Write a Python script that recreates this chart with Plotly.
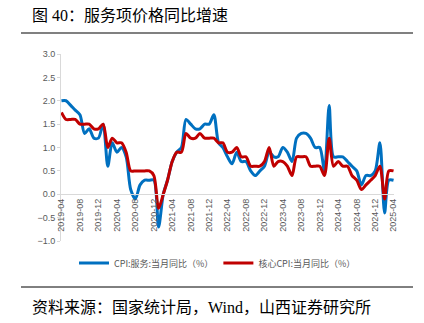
import plotly.graph_objects as go

# ---------------- data ----------------
months = [f"{y}-{m:02d}" for y in range(2019, 2026) for m in range(1, 13)]
months = months[months.index("2019-04"):months.index("2025-04") + 1]

services_cpi = [
    2.0, 2.0, 1.9, 1.8, 1.7, 1.3, 1.4, 1.2, 1.2,            # 2019-04..12
    1.5, 0.6, 1.1, 0.9, 1.0, 0.8, 0.1, -0.1, 0.2, 0.3, 0.3, 0.3,  # 2020
    -0.7, 0.0, 0.3, 0.7, 0.9, 1.0, 1.6, 1.5, 1.4, 1.4, 1.5, 1.5,  # 2021
    1.7, 1.1, 1.0, 0.8, 0.65, 0.9, 0.7, 0.7, 0.5, 0.4, 0.5, 0.6,  # 2022
    0.9, 0.8, 0.8, 1.0, 0.9, 0.7, 1.2, 1.3, 1.3, 1.2, 1.0, 1.0,   # 2023
    0.5, 1.9, 0.8, 0.8, 0.8, 0.7, 0.6, 0.5, 0.2, 0.4, 0.4, 0.5,   # 2024
    1.1, -0.4, 0.3, 0.3,                                          # 2025
]
core_cpi = [
    1.75, 1.6, 1.6, 1.6, 1.5, 1.5, 1.5, 1.4, 1.4,
    1.5, 1.0, 1.2, 1.1, 1.1, 0.9, 0.5, 0.5, 0.5, 0.5, 0.5, 0.4,
    -0.3, 0.0, 0.3, 0.7, 0.9, 0.9, 1.3, 1.2, 1.2, 1.3, 1.2, 1.2,
    1.2, 1.1, 1.1, 0.9, 0.9, 1.0, 0.8, 0.8, 0.6, 0.6, 0.6, 0.7,
    1.0, 0.6, 0.7, 0.7, 0.6, 0.4, 0.8, 0.8, 0.8, 0.6, 0.6, 0.6,
    0.4, 1.2, 0.6, 0.7, 0.6, 0.6, 0.4, 0.3, 0.1, 0.2, 0.3, 0.4,
    0.6, -0.1, 0.5, 0.5,
]
series_names = ["CPI:服务:当月同比（%）", "核心CPI:当月同比（%）"]
tick_labels = months[::4]
title_text = "图 40：服务项价格同比增速"
source_text = "资料来源：国家统计局，Wind，山西证券研究所"

# ---------------- layout geometry ----------------
W, H = 424, 323
L, R, T, B = 61, 394, 54, 241


def px_x(px):
    return (px - L) / (R - L)


def px_y(py):
    return (B - py) / (B - T)


dates = [m + "-01" for m in months]

fig = go.Figure()
fig.add_trace(go.Scatter(
    x=dates, y=services_cpi, name=series_names[0], mode="lines",
    line=dict(color="#0070C0", width=3, shape="spline", smoothing=0.8),
))
fig.add_trace(go.Scatter(
    x=dates, y=core_cpi, name=series_names[1], mode="lines",
    line=dict(color="#C00000", width=3, shape="spline", smoothing=0.8),
))

tick_font = dict(family="Liberation Sans, Noto Sans CJK SC", size=9, color="#595959")

fig.update_layout(
    width=W, height=H,
    margin=dict(l=L, r=W - R, t=T, b=H - B, pad=0),
    paper_bgcolor="white", plot_bgcolor="white",
    showlegend=True,
    legend=dict(
        orientation="h", x=px_x(74), xanchor="left", y=px_y(263), yanchor="middle",
        font=dict(family="Noto Sans CJK SC", size=9, color="#595959"),
        itemwidth=30,
        bgcolor="rgba(0,0,0,0)",
    ),
    xaxis=dict(
        type="date",
        range=["2019-03-29", "2025-04-04"],
        tickvals=[t + "-01" for t in tick_labels],
        ticktext=tick_labels,
        tickangle=-90,
        tickfont=tick_font,
        showgrid=False, zeroline=False,
        showline=True, linecolor="#d9d9d9", linewidth=1,
        ticks="", anchor="free", position=0.25,
    ),
    yaxis=dict(
        range=[-1, 3], dtick=0.5, tickformat=".1f",
        tickfont=tick_font,
        showgrid=False, zeroline=False,
        showline=True, linecolor="#d9d9d9", linewidth=1,
        ticks="outside", ticklen=3, tickcolor="#d9d9d9",
    ),
    annotations=[
        dict(text=title_text, xref="paper", yref="paper", x=px_x(30), y=px_y(15),
             xanchor="left", yanchor="middle", showarrow=False,
             font=dict(family="Liberation Serif, Noto Sans CJK SC", size=16, color="#000000")),
        dict(text=source_text, xref="paper", yref="paper", x=px_x(30), y=px_y(307),
             xanchor="left", yanchor="middle", showarrow=False,
             font=dict(family="Liberation Serif, Noto Sans CJK SC", size=16, color="#000000")),
    ],
    shapes=[
        dict(type="line", xref="paper", yref="paper", x0=px_x(21), x1=px_x(413),
             y0=px_y(33), y1=px_y(33), line=dict(color="#808080", width=2)),
        dict(type="line", xref="paper", yref="paper", x0=px_x(21), x1=px_x(413),
             y0=px_y(287), y1=px_y(287), line=dict(color="#000000", width=1)),
    ],
)

fig.write_html("out.html")
